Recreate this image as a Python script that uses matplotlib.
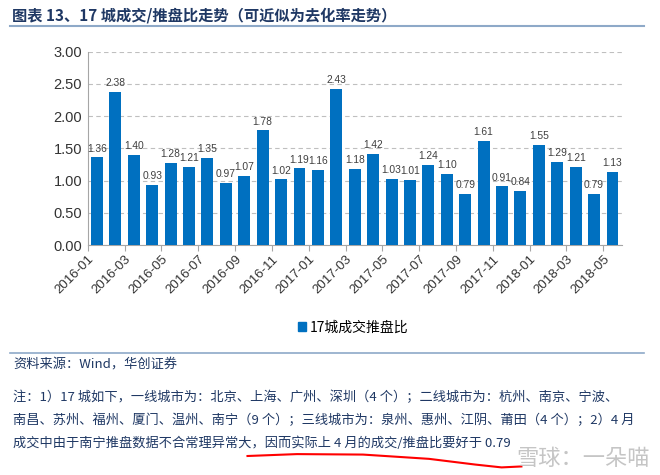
import matplotlib
matplotlib.use("Agg")
import matplotlib.pyplot as plt
import numpy as np
from matplotlib.patches import Patch

plt.rcParams['font.family'] = ['Noto Sans CJK SC', 'DejaVu Sans']

months = ["2016-01","2016-02","2016-03","2016-04","2016-05","2016-06","2016-07","2016-08","2016-09","2016-10","2016-11","2016-12",
          "2017-01","2017-02","2017-03","2017-04","2017-05","2017-06","2017-07","2017-08","2017-09","2017-10","2017-11","2017-12",
          "2018-01","2018-02","2018-03","2018-04","2018-05"]
values = [1.36,2.38,1.40,0.93,1.28,1.21,1.35,0.97,1.07,1.78,1.02,1.19,
          1.16,2.43,1.18,1.42,1.03,1.01,1.24,1.10,0.79,1.61,0.91,0.84,
          1.55,1.29,1.21,0.79,1.13]
series_name = "17城成交推盘比"
yticks = [0.0,0.5,1.0,1.5,2.0,2.5,3.0]

title = "图表 13、17 城成交/推盘比走势（可近似为去化率走势）"
source = "资料来源：Wind，华创证券"
note_lines = ["注：1）17 城如下，一线城市为：北京、上海、广州、深圳（4 个）；二线城市为：杭州、南京、宁波、",
              "南昌、苏州、福州、厦门、温州、南宁（9 个）；三线城市为：泉州、惠州、江阴、莆田（4 个）；2）4 月",
              "成交中由于南宁推盘数据不合常理异常大，因而实际上 4 月的成交/推盘比要好于 0.79"]

fig = plt.figure(figsize=(6.6, 4.75), dpi=100)
ax = fig.add_axes([0.133, 0.484, 0.809, 0.407])

x = np.arange(len(values))
bar_color = "#0070C0"
ax.bar(x, values, width=0.65, color=bar_color, zorder=3)
for xi, v in zip(x, values):
    ax.text(xi, v + 0.06, f"{v:.2f}", ha='center', va='bottom', fontsize=7.4,
            color="#404040", family=['Liberation Sans', 'DejaVu Sans'], zorder=4)

ax.set_xlim(-0.5, len(values) - 0.5)
ax.set_ylim(0, 3.0)
ax.set_yticks(yticks)
ax.set_yticklabels([f"{t:.2f}" for t in yticks], fontsize=10.5, color="#333333",
                   family=['Liberation Sans', 'DejaVu Sans'])
ax.yaxis.grid(True, linestyle=(0, (4, 3)), color="#BFBFBF", linewidth=0.8, zorder=0)
ax.set_axisbelow(True)

tick_pos = np.arange(0, len(values), 2) - 0.5
ax.set_xticks(tick_pos)
ax.set_xticklabels(months[::2], rotation=45, ha='right', rotation_mode='anchor',
                   fontsize=9.5, color="#333333", family=['Liberation Sans', 'DejaVu Sans'])
ax.tick_params(axis='x', length=4, color="#A6A6A6", pad=2)
ax.tick_params(axis='y', length=0, pad=4)
for s in ['top', 'right']:
    ax.spines[s].set_visible(False)
ax.spines['left'].set_color("#A6A6A6")
ax.spines['bottom'].set_color("#A6A6A6")

# legend
fig.legend(handles=[Patch(color=bar_color, label=series_name)], loc='center',
           bbox_to_anchor=(0.535, 0.31), frameon=False, fontsize=10,
           handlelength=0.6, handleheight=0.6, handletextpad=0.3)

# title
fig.text(0.018, 0.968, title, fontsize=11, fontweight='bold', color="#1F3864", va='center')
fig.add_artist(plt.Line2D([0.015, 0.975], [0.945, 0.945], color="#8EA9C8", linewidth=1.5))

# bottom divider
fig.add_artist(plt.Line2D([0.015, 0.975], [0.257, 0.257], color="#8EA9C8", linewidth=1.2))
fig.text(0.02, 0.232, source, fontsize=9.5, style='italic', color="#1F3864", va='center')

note_y = [0.163, 0.114, 0.066]
for yy, line in zip(note_y, note_lines):
    fig.text(0.02, yy, line, fontsize=9.5, style='italic', color="#1F3864", va='center')

# red hand underline and watermark
fig.add_artist(plt.Line2D([0.375, 0.45, 0.55, 0.65, 0.72, 0.76, 0.79],
                          [0.040, 0.044, 0.043, 0.034, 0.022, 0.016, 0.018],
                          color="red", linewidth=1.5))
fig.text(0.985, 0.035, "雪球：一朵喵", fontsize=16, color="#BBBBBB", alpha=0.85,
         ha='right', va='center')

fig.savefig("out.png", dpi=100)
